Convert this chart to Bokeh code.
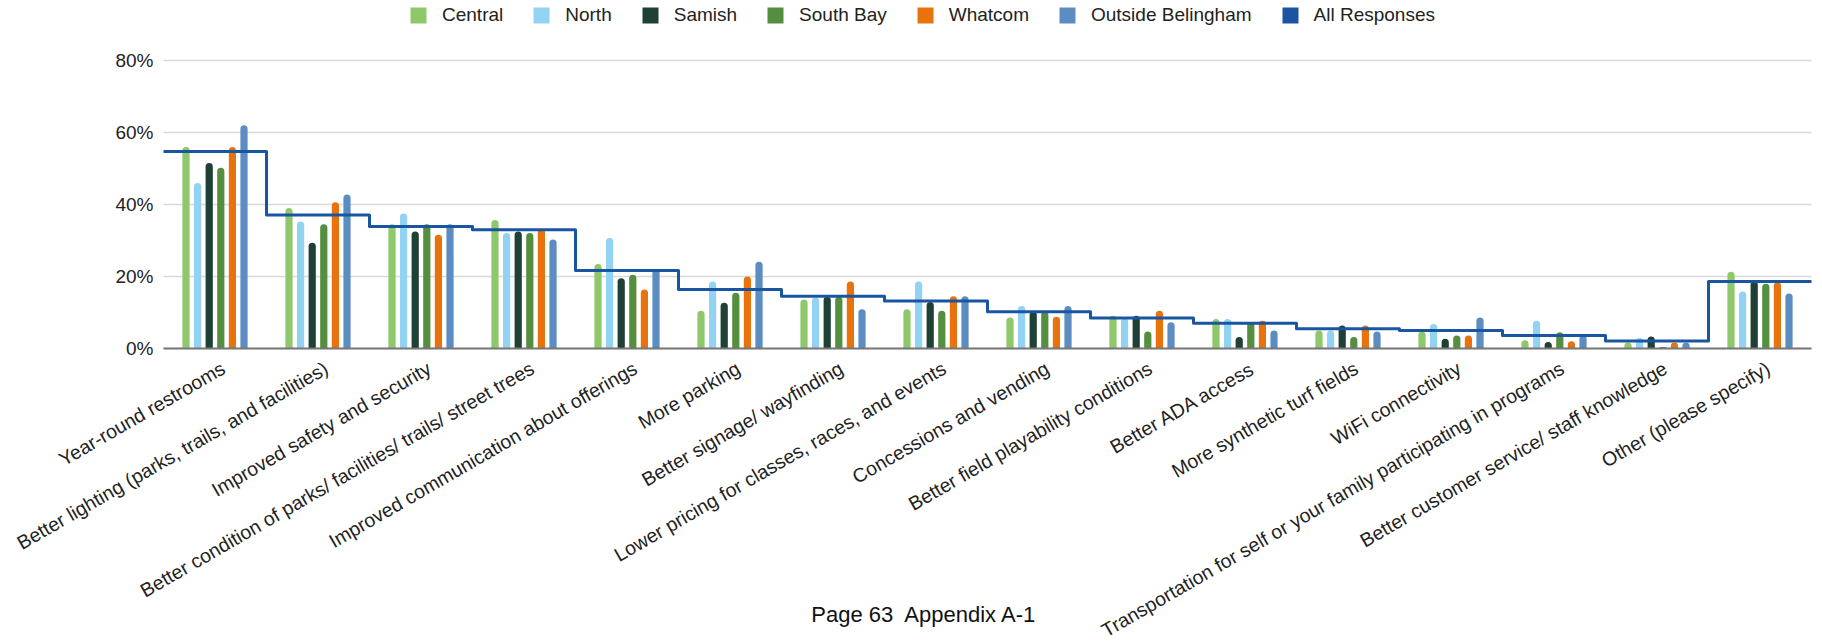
import math
from bokeh.plotting import figure
from bokeh.models import (Range1d, FixedTicker, PrintfTickFormatter, CustomJSTickFormatter,
                          Legend, LegendItem, Label, ColumnDataSource)
from bokeh.transform import dodge
from bokeh.embed import file_html
from bokeh.resources import INLINE

categories = [
    "Year-round restrooms",
    "Better lighting (parks, trails, and facilities)",
    "Improved safety and security",
    "Better condition of parks/ facilities/ trails/ street trees",
    "Improved communication about offerings",
    "More parking",
    "Better signage/ wayfinding",
    "Lower pricing for classes, races, and events",
    "Concessions and vending",
    "Better field playability conditions",
    "Better ADA access",
    "More synthetic turf fields",
    "WiFi connectivity",
    "Transportation for self or your family participating in programs",
    "Better customer service/ staff knowledge",
    "Other (please specify)",
]

central = [56.0, 39.0, 34.5, 35.7, 23.5, 10.5, 13.6, 10.9, 8.6, 9.1, 8.2, 5.0, 4.7, 2.3, 1.7, 21.3]
north = [46.0, 35.3, 37.5, 32.1, 30.7, 18.6, 14.2, 18.6, 11.8, 8.4, 8.2, 5.0, 6.8, 7.7, 2.9, 15.8]
samish = [51.5, 29.4, 32.5, 32.5, 19.5, 12.7, 14.4, 12.9, 10.3, 9.1, 3.2, 6.4, 2.7, 1.8, 3.3, 18.7]
south_bay = [50.2, 34.5, 34.5, 32.1, 20.5, 15.5, 14.4, 10.5, 10.3, 4.7, 7.3, 3.2, 3.6, 4.5, 0.4, 18.0]
whatcom = [56.0, 40.6, 31.6, 33.2, 16.4, 20.0, 18.6, 14.5, 8.8, 10.5, 7.7, 6.4, 3.6, 2.0, 1.7, 18.4]
outside = [62.0, 42.8, 34.5, 30.3, 22.1, 24.1, 10.9, 14.5, 11.8, 7.3, 5.0, 4.7, 8.6, 3.6, 1.7, 15.3]
all_responses = [54.7, 37.1, 33.9, 33.0, 21.7, 16.4, 14.5, 13.2, 10.2, 8.5, 7.0, 5.5, 5.0, 3.6, 2.1, 18.6]

series_names = ["Central", "North", "Samish", "South Bay", "Whatcom", "Outside Belingham"]
series_values = [central, north, samish, south_bay, whatcom, outside]
series_colors = ["#8fc86a", "#92d2f3", "#1e4035", "#548f3f", "#e8730c", "#5b8dc3"]
all_name = "All Responses"
all_color = "#1a55a2"

y_ticks = [0, 20, 40, 60, 80]
page_text = "Page 63\u00a0 Appendix A-1"

FONT = "Liberation Sans"

n = len(categories)
cat_index = list(range(n))

# Frame spans the whole canvas: the ranges extend past the plotting band
# (0..n categories, 0..80 %) so that the legend, the rotated category names and
# the page note are all drawn inside it.  Both axes are pinned with fixed_location.
p = figure(x_range=Range1d(-163 / 103, n + 11 / 103), y_range=Range1d(-81.667, 96.667),
           width=1822, height=642, output_backend="svg", toolbar_location=None,
           min_border_left=0, min_border_right=0, min_border_top=0, min_border_bottom=0)
p.outline_line_color = None
p.background_fill_color = "white"
p.border_fill_color = "white"

p.xgrid.visible = False
p.ygrid.visible = False
# horizontal gridlines limited to the plotting band
p.segment(x0=0, x1=n, y0=y_ticks, y1=y_ticks, line_color="#d9d9d9", line_width=1.5)

source = ColumnDataSource(dict(idx=cat_index, pos=[i + 0.5 for i in cat_index],
                               **{f"s{k}": v for k, v in enumerate(series_values)},
                               allr=all_responses))

offsets = [-0.2816, -0.169, -0.0563, 0.0563, 0.169, 0.2816]
renderers = []
for k, (name, col, off) in enumerate(zip(series_names, series_colors, offsets)):
    r = p.vbar(x=dodge("pos", off), top=f"s{k}", width=0.07, source=source,
               fill_color=col, line_color=None, border_radius=(4, 4, 0, 0))
    renderers.append(r)

# legend swatch for "All Responses" (hidden renderer, shown only in the legend)
dummy = p.vbar(x="pos", top="allr", width=0.07, source=source,
               fill_color=all_color, line_color=None, visible=False)

step_x = list(range(n + 1))
step_y = all_responses + [all_responses[-1]]
p.step(x=step_x, y=step_y, mode="after", line_color=all_color, line_width=3,
       line_join="round")

# y axis pinned at the left edge of the plotting band
p.yaxis.fixed_location = 0
p.yaxis.ticker = FixedTicker(ticks=y_ticks)
p.yaxis.formatter = PrintfTickFormatter(format="%d%%")
p.yaxis.axis_line_color = None
p.yaxis.major_tick_line_color = None
p.yaxis.minor_tick_line_color = None
p.yaxis.major_tick_out = 0
p.yaxis.major_tick_in = 0
p.yaxis.major_label_standoff = 10
p.yaxis.major_label_text_font = FONT
p.yaxis.major_label_text_font_size = "19px"
p.yaxis.major_label_text_color = "#222222"

# x axis pinned at 0 %, category names as rotated labels
p.xaxis.fixed_location = 0
p.xaxis.bounds = (0, n)
p.xaxis.ticker = FixedTicker(ticks=[i + 0.58 for i in cat_index])
p.xaxis.formatter = CustomJSTickFormatter(args=dict(cats=categories),
                                          code="return cats[Math.floor(tick)] || '';")
p.xaxis.axis_line_color = "#777777"
p.xaxis.axis_line_width = 2
p.xaxis.major_tick_line_color = None
p.xaxis.minor_tick_line_color = None
p.xaxis.major_tick_out = 0
p.xaxis.major_tick_in = 0
p.xaxis.major_label_orientation = math.pi / 6
p.xaxis.major_label_standoff = 18
p.xaxis.major_label_text_font = FONT
p.xaxis.major_label_text_font_size = "19.5px"
p.xaxis.major_label_text_color = "#222222"

items = [LegendItem(label=nm, renderers=[r]) for nm, r in zip(series_names, renderers)]
items.append(LegendItem(label=all_name, renderers=[dummy]))
legend = Legend(items=items, orientation="horizontal", location=(408, 616),
                glyph_width=20, glyph_height=20, label_standoff=14, spacing=28,
                padding=0, margin=0, border_line_color=None, background_fill_alpha=0,
                inactive_fill_alpha=0,
                label_text_font=FONT, label_text_font_size="19px",
                label_text_color="#222222", label_height=20)
p.add_layout(legend)

page = Label(x=n / 2, y=0, x_offset=-63, y_offset=-266,
             text=page_text, text_align="center", text_baseline="middle",
             text_font=FONT, text_font_size="22px", text_color="#111111")
p.add_layout(page)

open("out.html", "w").write(file_html(p, INLINE))
